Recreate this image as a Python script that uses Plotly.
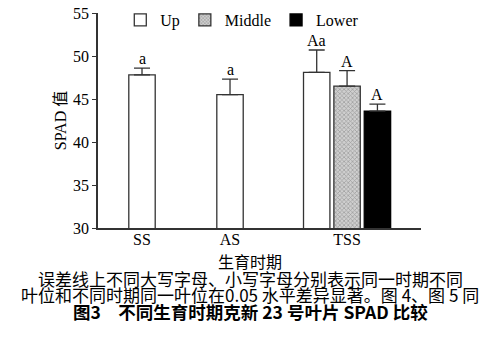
import plotly.graph_objects as go

# ---- data ----
stages = ["SS", "AS", "TSS"]
up_vals = [47.8, 45.5, 48.1]
up_err = [0.8, 1.8, 2.6]
up_labels = ["a", "a", "Aa"]
mid_vals = [46.5]
mid_err = [1.8]
mid_labels = ["A"]
low_vals = [43.6]
low_err = [0.8]
low_labels = ["A"]

# ---- layout of category slots (axis units) ----
slot = {"SS": 1.0, "AS": 2.0, "TSS": 3.33}
bw = 0.30
shift = 0.345
up_x = [slot["SS"], slot["AS"], slot["TSS"] - shift]
mid_x = [slot["TSS"]]
low_x = [slot["TSS"] + shift]

LINE = "#333333"
SERIF = "Liberation Serif, Times New Roman, Noto Sans CJK SC"
CJK = "Noto Sans CJK SC"

fig = go.Figure()

def err(a):
    return dict(type="data", array=a, arrayminus=[0] * len(a), symmetric=False,
                color=LINE, thickness=1.3, width=8)

fig.add_trace(go.Bar(name="Up", x=up_x, y=up_vals, width=bw, error_y=err(up_err),
                     marker=dict(color="white", line=dict(color=LINE, width=1.3))))
fig.add_trace(go.Bar(name="Middle", x=mid_x, y=mid_vals, width=bw, error_y=err(mid_err),
                     marker=dict(color="#bdbdbd", line=dict(color=LINE, width=1.3),
                                 pattern=dict(shape="x", size=3, solidity=0.4,
                                              fgcolor="#666666", bgcolor="#cfcfcf"))))
fig.add_trace(go.Bar(name="Lower", x=low_x, y=low_vals, width=bw, error_y=err(low_err),
                     marker=dict(color="black", line=dict(color="black", width=1.3))))

for xs, vs, es, ls in [(up_x, up_vals, up_err, up_labels),
                       (mid_x, mid_vals, mid_err, mid_labels),
                       (low_x, low_vals, low_err, low_labels)]:
    for x, v, e, l in zip(xs, vs, es, ls):
        fig.add_annotation(x=x, y=v + e, text=l, showarrow=False, yanchor="bottom",
                           yshift=-1, font=dict(family=SERIF, size=16, color="black"))

caps = [
    ("生育时期", 261, 16),
    ("误差线上不同大写字母、小写字母分别表示同一时期不同", 278, 17),
    ("叶位和不同时期同一叶位在0.05 水平差异显著。图 4、图 5 同", 294, 17),
    ("<b>图3　不同生育时期克新 23 号叶片 SPAD 比较</b>", 311, 17.5),
]
for t, py, fs in caps:
    fig.add_annotation(xref="paper", yref="paper", x=(250 - 98) / 323, y=(228 - py) / 215,
                       text=t, showarrow=False, xanchor="center", yanchor="middle",
                       font=dict(family=CJK, size=fs, color="black"))

fig.update_layout(
    width=500, height=350,
    margin=dict(l=98, r=79, t=13, b=122, autoexpand=False),
    paper_bgcolor="white", plot_bgcolor="white",
    barmode="overlay",
    showlegend=True,
    legend=dict(orientation="h", x=0.069, y=(228 - 20) / 215, xanchor="left", yanchor="middle",
                bgcolor="rgba(0,0,0,0)", font=dict(family=SERIF, size=16, color="black"),
                itemwidth=30, traceorder="normal"),
    xaxis=dict(range=[0.5, 4.17], tickvals=[slot[s] for s in stages], ticktext=stages,
               showline=True, linecolor=LINE, linewidth=1.5, ticks="", showgrid=False,
               zeroline=False, ticklabelstandoff=-4,
               tickfont=dict(family=SERIF, size=16, color="black")),
    yaxis=dict(range=[30, 55], dtick=5, showline=True, linecolor=LINE, linewidth=1.5,
               ticks="outside", ticklen=4, tickcolor=LINE, showgrid=False, zeroline=False,
               tickfont=dict(family=SERIF, size=16, color="black"),
               title=dict(text="SPAD 值", font=dict(family=SERIF, size=16, color="black"),
                          standoff=2)),
)

fig.write_html("out.html")
